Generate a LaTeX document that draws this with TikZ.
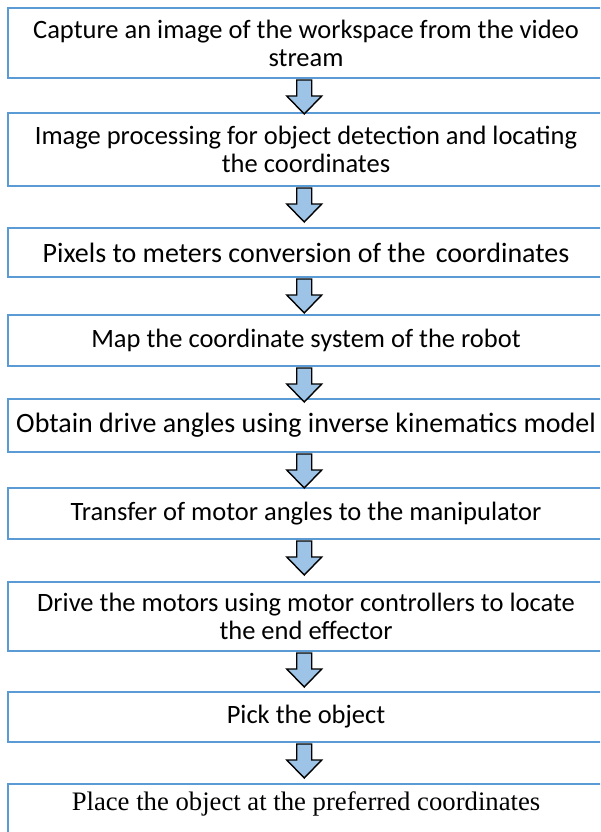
\documentclass[tikz,border=0pt]{standalone}
\usepackage{fontspec}
\setmainfont{Carlito}
\newfontfamily\timesfont{Liberation Serif}
\definecolor{boxblue}{HTML}{5B9BD5}
\definecolor{arrowfill}{HTML}{9DC3E6}
% hollow block arrow hanging below the named box
\newcommand\flowarrow[1]{%
  \draw[blockarrow] ([xshift=-9.25pt,yshift=-1pt]#1.south) -- ++(0,16) -- ++(-10,0)
    -- ++(17.5,18) -- ++(17.5,-18) -- ++(-10,0) -- ++(0,-16) -- cycle;}
\begin{document}
\begin{tikzpicture}[x=1pt,y=-1pt,
  stepbox/.style={draw=boxblue, line width=2pt, fill=white, minimum width=596pt,
    inner sep=0pt, align=center, font=\fontsize{26.5}{28}\selectfont},
  blockarrow/.style={draw=black, fill=arrowfill, line width=1.4pt, line join=miter}]
\useasboundingbox (0,0) rectangle (600,832);
\clip (0,0) rectangle (600,832);
\node[stepbox, minimum height=70pt] (s1) at (306,43)
  {Capture an image of the workspace from the video\\stream};
\node[stepbox, minimum height=73pt] (s2) at (306,149.5)
  {Image processing for object detection and locating\\the coordinates};
\node[stepbox, minimum height=49pt, font=\fontsize{28}{30}\selectfont] (s3) at (306,252.5)
  {Pixels to meters conversion of the\hspace{4pt} coordinates};
\node[stepbox, minimum height=51pt] (s4) at (306,340.5)
  {Map the coordinate system of the robot};
\node[stepbox, minimum height=53pt, font=\fontsize{28}{30}\selectfont] (s5) at (306,425.5)
  {Obtain drive angles using inverse kinematics model};
\node[stepbox, minimum height=51pt] (s6) at (306,513.5)
  {Transfer of motor angles to the manipulator};
\node[stepbox, minimum height=69pt] (s7) at (306,616.5)
  {Drive the motors using motor controllers to locate\\the end effector};
\node[stepbox, minimum height=50pt] (s8) at (306,717)
  {Pick the object};
\node[stepbox, anchor=north, inner ysep=5pt, text height=21pt, text depth=26pt,
  font=\timesfont\fontsize{26.7}{28}\selectfont] (s9) at (306,783)
  {Place the object at the preferred coordinates};
\flowarrow{s1}
\flowarrow{s2}
\flowarrow{s3}
\flowarrow{s4}
\flowarrow{s5}
\flowarrow{s6}
\flowarrow{s7}
\flowarrow{s8}
\end{tikzpicture}
\end{document}
